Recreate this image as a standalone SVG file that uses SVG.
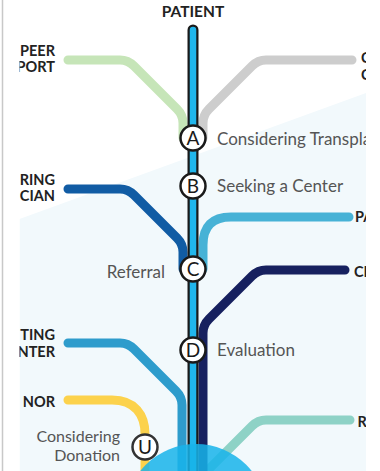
<svg xmlns="http://www.w3.org/2000/svg" width="380" height="471" viewBox="0 0 380 471">
<style>
.ln{fill:none;stroke-width:9;stroke-linecap:round;stroke-linejoin:round}
.side{font-family:Lato,"Open Sans",sans-serif;font-weight:700;font-size:14.5px;fill:#222}
.lbl{font-family:Lato,"Open Sans",sans-serif;font-size:17px;fill:#555}
.st circle{fill:#fff;stroke:#1a1a1a;stroke-width:2.5}
.st text{font-family:Lato,"Open Sans",sans-serif;font-size:19px;fill:#1a1a1a;text-anchor:middle}
</style>
<defs>
<clipPath id="view"><rect x="19.5" y="0" width="346.5" height="471"/></clipPath>
</defs>
<rect x="0" y="0" width="380" height="471" fill="#fff"/>
<line x1="2.5" y1="0" x2="2.5" y2="471" stroke="#c8c8c8" stroke-width="1.5"/>
<g clip-path="url(#view)">
<polygon points="19.5,219 366,93 366,471 19.5,471" fill="#f2f9fc"/>
<g id="connectors">
<path class="ln" stroke="#c6e5b8" d="M68,60 H120 Q128,60 134,66 L177,109 Q183,115 183,123 V138"/>
<path class="ln" stroke="#cdcdcd" d="M352,60 H266 Q258,60 252,66 L209,109 Q203,115 203,123 V138"/>
<path class="ln" stroke="#115ca4" d="M68,189 H120 Q128,189 134,195 L177,238 Q183,244 183,252 V269"/>
<path class="ln" stroke="#47b2d6" d="M349,217 H231 Q203,217 203,245 V269"/>
<path class="ln" stroke="#2e9ccc" d="M68,343 H120 Q128,343 134,349 L176,391 Q182,397 182,405 V480"/>
<path class="ln" stroke="#fcd24c" d="M68,400 H112 C135,400 145,415 145,434 V480"/>
<path class="ln" stroke="#8ed2c6" d="M350,420 H266 Q258,420 252,426 L196,482"/>
<path class="ln" stroke="#17215f" d="M345,270 H266 Q258,270 252,276 L209,319 Q203,325 203,333 V480"/>
</g>
<g id="trunk">
<path d="M193,30 V480" fill="none" stroke="#1a1a1a" stroke-width="11" stroke-linecap="round"/>
<path d="M193,30 V480" fill="none" stroke="#20b6ec" stroke-width="6.5" stroke-linecap="round"/>
</g>
<circle id="hub" cx="196" cy="515" r="71" fill="#18b4ea" fill-opacity="0.85"/>
<g id="labels-left">
<text class="side" x="55" y="56" text-anchor="end">PEER</text>
<text class="side" x="55" y="72" text-anchor="end">PORT</text>
<text class="side" x="55" y="185" text-anchor="end">RING</text>
<text class="side" x="55" y="201" text-anchor="end">CIAN</text>
<text class="side" x="55" y="340" text-anchor="end">TING</text>
<text class="side" x="55" y="357" text-anchor="end">NTER</text>
<text class="side" x="55" y="407" text-anchor="end">NOR</text>
</g>
<g id="labels-right">
<text class="side" x="361" y="63">C</text>
<text class="side" x="361" y="80">C</text>
<text class="side" x="355" y="222">PA</text>
<text class="side" x="354" y="277">CL</text>
<text class="side" x="357.5" y="427">R</text>
</g>
<text id="patient" class="side" x="193" y="17" text-anchor="middle" style="font-size:15.5px">PATIENT</text>
<g id="stA" class="st"><circle cx="193" cy="138" r="12.5"/><text x="193" y="144.5">A</text></g>
<g id="stB" class="st"><circle cx="193" cy="186" r="12.5"/><text x="193" y="192.5">B</text></g>
<g id="stC" class="st"><circle cx="193" cy="269" r="12.5"/><text x="193" y="275.5">C</text></g>
<g id="stD" class="st"><circle cx="193" cy="350" r="12.5"/><text x="193" y="356.5">D</text></g>
<g id="stU" class="st"><circle cx="145" cy="447" r="12.5" style="stroke:#333"/><text x="145" y="453.5">U</text></g>
<text class="lbl" x="217" y="145">Considering Transpla</text>
<text class="lbl" x="217" y="192">Seeking a Center</text>
<text class="lbl" x="165" y="278" text-anchor="end">Referral</text>
<text class="lbl" x="217" y="356">Evaluation</text>
<text class="lbl" x="120" y="442" text-anchor="end" style="font-size:16px">Considering</text>
<text class="lbl" x="120" y="461" text-anchor="end" style="font-size:16px">Donation</text>
</g>
</svg>
